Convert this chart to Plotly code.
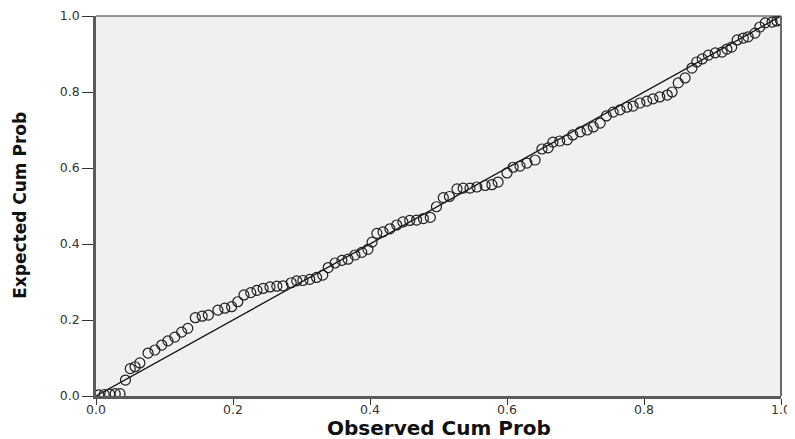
import plotly.graph_objects as go

# Observed cumulative probability (x) and expected cumulative probability (y)
obs_cum_prob = [
    0.004, 0.012, 0.020, 0.028, 0.035, 0.043, 0.050, 0.057, 0.064, 0.076,
    0.086, 0.096, 0.105, 0.115, 0.125, 0.134, 0.145, 0.155, 0.164, 0.178,
    0.188, 0.198, 0.207, 0.216, 0.226, 0.235, 0.244, 0.254, 0.264, 0.273,
    0.285, 0.293, 0.302, 0.312, 0.322, 0.331, 0.339, 0.349, 0.359, 0.368,
    0.378, 0.388, 0.397, 0.403, 0.410, 0.419, 0.429, 0.439, 0.448, 0.458,
    0.468, 0.478, 0.488, 0.497, 0.507, 0.516, 0.527, 0.536, 0.546, 0.556,
    0.568, 0.578, 0.587, 0.600, 0.609, 0.619, 0.629, 0.641, 0.651, 0.660,
    0.667, 0.677, 0.688, 0.696, 0.707, 0.717, 0.726, 0.736, 0.745, 0.755,
    0.765, 0.775, 0.784, 0.794, 0.804, 0.813, 0.823, 0.834, 0.841, 0.850,
    0.860, 0.870, 0.877, 0.885, 0.894, 0.904, 0.914, 0.921, 0.928, 0.936,
    0.945, 0.952, 0.962, 0.969, 0.977, 0.987, 0.994, 0.999,
]
exp_cum_prob = [
    0.003, 0.004, 0.005, 0.006, 0.006, 0.042, 0.072, 0.077, 0.087, 0.113,
    0.121, 0.134, 0.145, 0.155, 0.168, 0.178, 0.206, 0.210, 0.213, 0.226,
    0.231, 0.235, 0.248, 0.266, 0.272, 0.278, 0.283, 0.287, 0.289, 0.290,
    0.298, 0.303, 0.304, 0.307, 0.312, 0.318, 0.338, 0.350, 0.357, 0.360,
    0.371, 0.378, 0.386, 0.405, 0.428, 0.432, 0.440, 0.450, 0.458, 0.462,
    0.463, 0.467, 0.470, 0.498, 0.522, 0.525, 0.545, 0.547, 0.547, 0.550,
    0.554, 0.556, 0.563, 0.587, 0.602, 0.605, 0.613, 0.621, 0.650, 0.653,
    0.668, 0.671, 0.674, 0.687, 0.695, 0.700, 0.708, 0.718, 0.737, 0.747,
    0.753, 0.760, 0.763, 0.771, 0.776, 0.782, 0.787, 0.792, 0.800, 0.824,
    0.837, 0.863, 0.879, 0.887, 0.897, 0.903, 0.905, 0.913, 0.918, 0.937,
    0.942, 0.945, 0.955, 0.971, 0.982, 0.984, 0.987, 0.990,
]

# Reference (diagonal) line endpoints
ref_x = [0.0, 1.0]
ref_y = [0.0, 1.0]

tick_vals = [0.0, 0.2, 0.4, 0.6, 0.8, 1.0]
tick_text = ["0.0", "0.2", "0.4", "0.6", "0.8", "1.0"]

x_title = "Observed Cum Prob"
y_title = "Expected Cum Prob"

fig = go.Figure()
fig.add_trace(go.Scatter(
    x=ref_x, y=ref_y, mode="lines",
    line=dict(color="#111111", width=1.3),
    hoverinfo="skip", showlegend=False,
))
fig.add_trace(go.Scatter(
    x=obs_cum_prob, y=exp_cum_prob, mode="markers",
    marker=dict(symbol="circle-open", size=10, color="#1e1e1e",
                line=dict(width=1.2, color="#1e1e1e")),
    showlegend=False,
))

tick_font = dict(family="DejaVu Sans", size=12.5, color="#333333")

# The page body adds an 8px offset, so the figure is 8px smaller than the window.
fig.update_layout(
    width=787, height=431,
    margin=dict(l=88, r=14, t=8, b=43, pad=0),
    paper_bgcolor="white",
    plot_bgcolor="#f0f0f0",
    xaxis=dict(
        range=[0, 1], tickvals=tick_vals, ticktext=tick_text,
        showgrid=False, zeroline=False, automargin=False,
        showline=True, linecolor="#5a5a5a", linewidth=2.5,
        ticks="outside", ticklen=6, tickwidth=1.2, tickcolor="#333333",
        tickfont=tick_font, ticklabelstandoff=-6,
    ),
    yaxis=dict(
        range=[0, 1], tickvals=tick_vals, ticktext=tick_text,
        showgrid=False, zeroline=False, automargin=False,
        showline=True, linecolor="#5a5a5a", linewidth=2.5,
        ticks="outside", ticklen=11, tickwidth=1.2, tickcolor="#333333",
        tickfont=tick_font,
    ),
    annotations=[
        dict(text="<b>" + x_title + "</b>", xref="paper", yref="paper",
             x=0.5, y=-0.085, xanchor="center", yanchor="middle",
             showarrow=False,
             font=dict(family="DejaVu Sans", size=20, color="#111111")),
        dict(text="<b>" + y_title + "</b>", xref="paper", yref="paper",
             x=-0.111, y=0.503, xanchor="center", yanchor="middle",
             textangle=-90, showarrow=False,
             font=dict(family="DejaVu Sans", size=17, color="#111111")),
    ],
    shapes=[
        dict(type="line", xref="paper", yref="paper", x0=0, x1=1, y0=1, y1=1,
             line=dict(color="#333333", width=1)),
        dict(type="line", xref="paper", yref="paper", x0=1, x1=1, y0=0, y1=1,
             line=dict(color="#6a6a6a", width=2)),
    ],
)

fig.write_html("out.html")
